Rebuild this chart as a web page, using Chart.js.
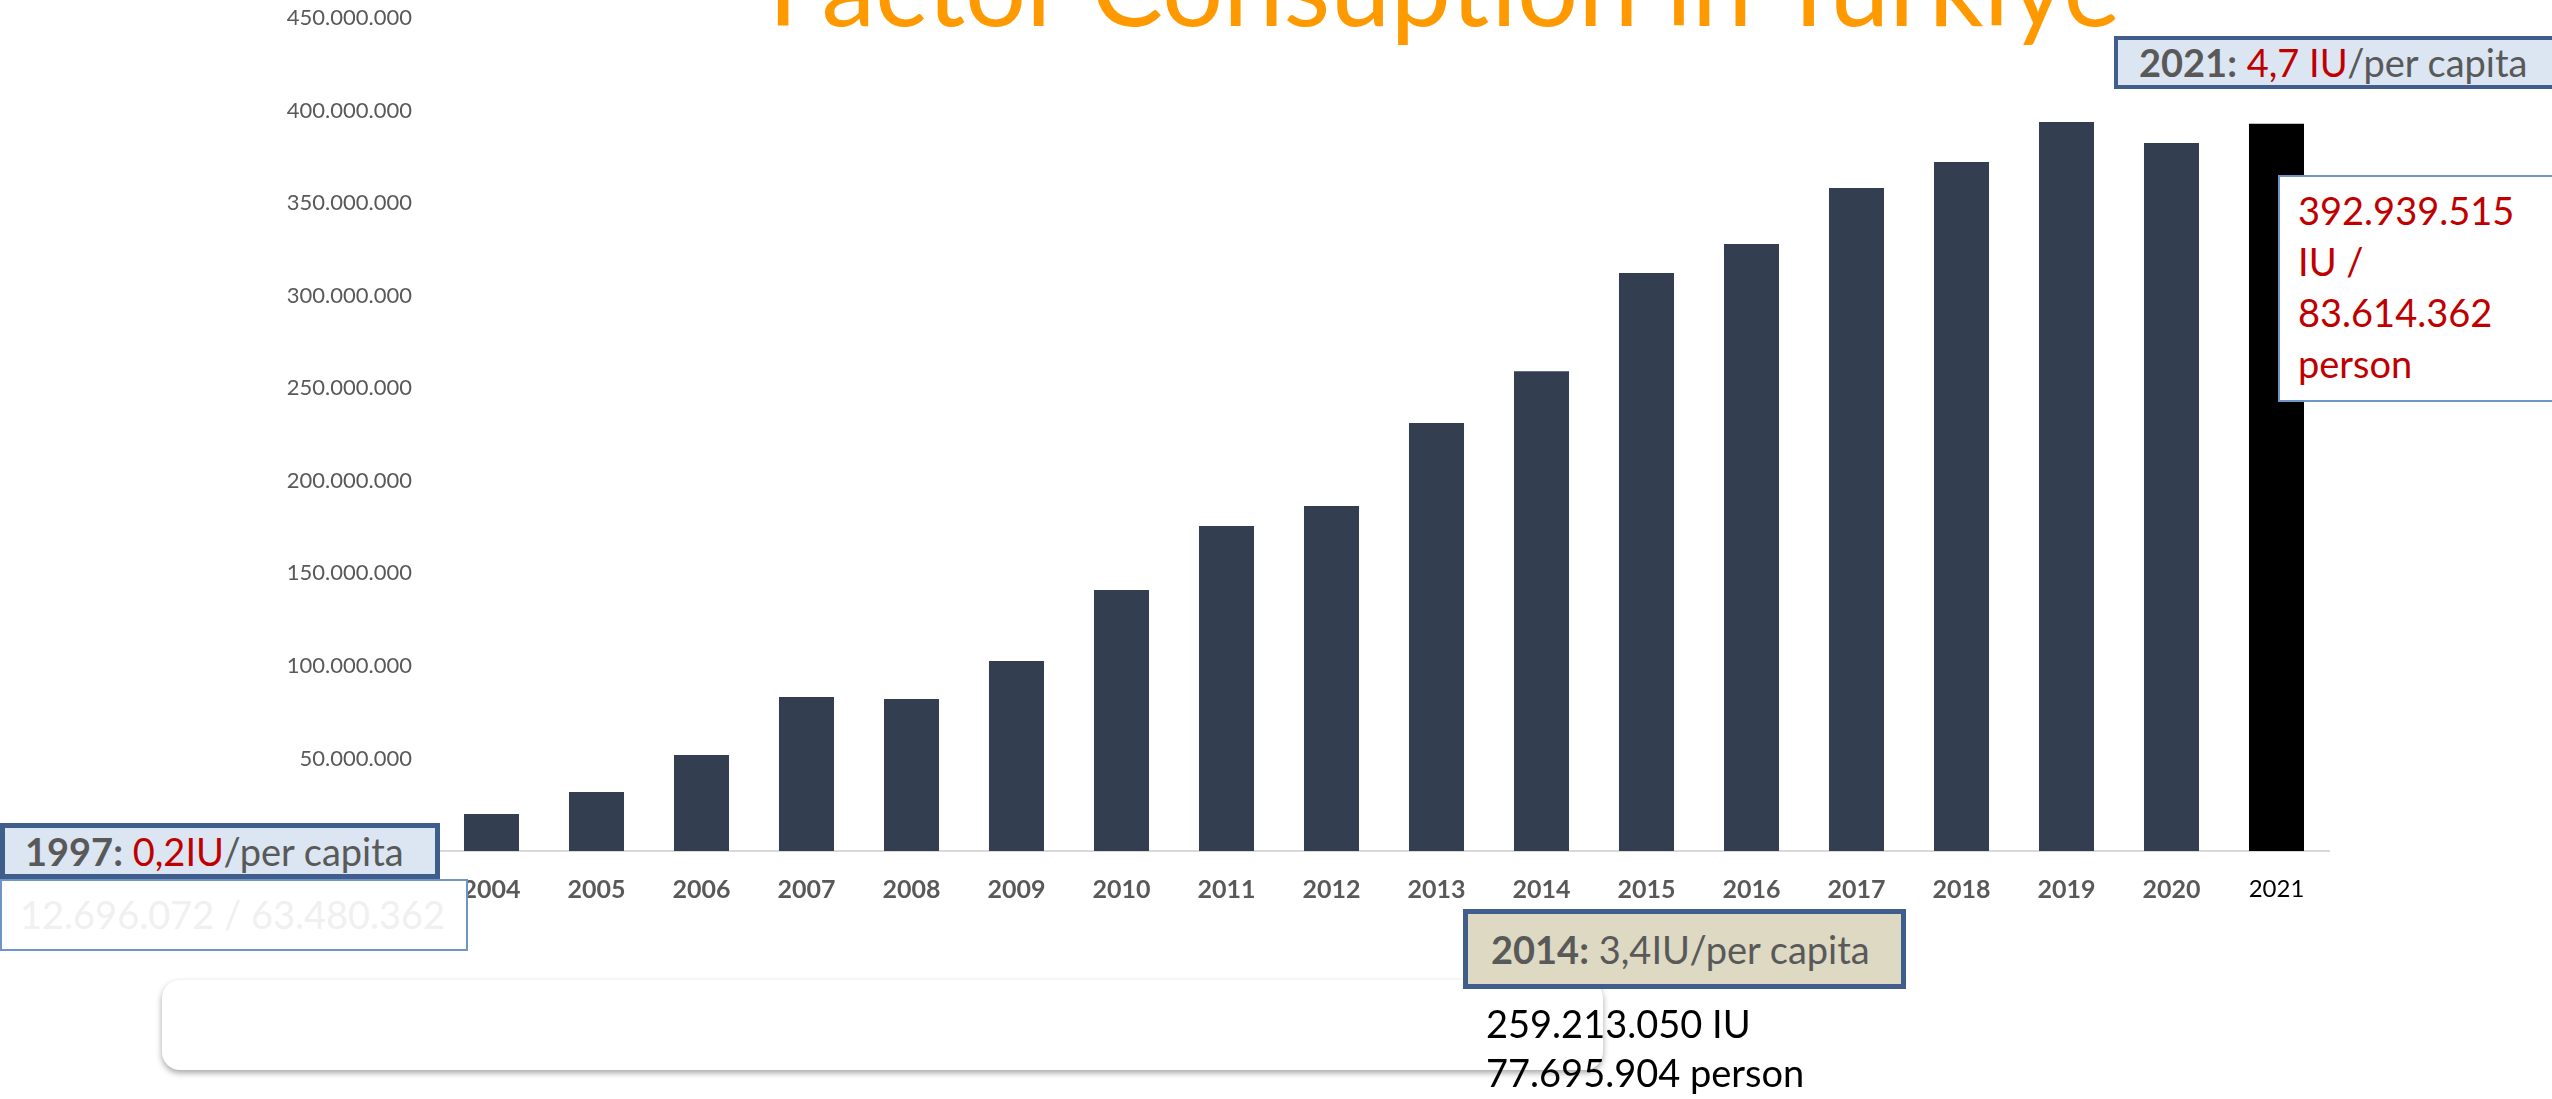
<!DOCTYPE html>
<html>
<head>
<meta charset="utf-8">
<title>Factor Consuption in Türkiye</title>
<script src="https://cdn.jsdelivr.net/npm/chart.js@4.4.0/dist/chart.umd.min.js"></script>
<style>
    html, body {
        margin: 0;
        padding: 0;
        background: #ffffff;
        overflow: hidden;
    }
    #pagina {
        position: relative;
        width: 2552px;
        height: 1099px;
        overflow: hidden;
        font-family: Lato, "Open Sans", sans-serif;
    }
    #grafico {
        position: absolute;
        left: 0;
        top: 0;
    }
    .box {
        position: absolute;
        box-sizing: border-box;
        font-size: 38px;
        white-space: nowrap;
    }
    .rosso { color: #c00000; }
    .grigio { color: #595959; }
    b { font-weight: 700; }
    #titolo {
        position: absolute;
        left: 768px;
        top: -70px;
        font-size: 108px;
        line-height: 108px;
        color: #ff9900;
        white-space: nowrap;
    }
    #box_2021 {
        left: 2114px; top: 36px; width: 460px; height: 53px;
        border: 4px solid #3f5e8c; background: #dce6f2;
        padding-left: 21px; line-height: 45px;
    }
    #valori_2021 {
        left: 2278px; top: 175px; width: 300px; height: 227px;
        border: 2px solid #6f94c8; background: #ffffff;
        padding: 8px 0 0 18px; line-height: 51px; color: #c00000;
    }
    #box_1997 {
        left: 0; top: 823px; width: 440px; height: 56px;
        border: 5px solid #3f5e8c; background: #dce6f2;
        padding-left: 20px; line-height: 46px;
    }
    #valori_1997 {
        left: 0; top: 879px; width: 468px; height: 72px;
        border: 2px solid #6f94c8; background: #ffffff;
        padding: 10px 0 0 18px; line-height: 46px; color: #f0f0f0;
    }
    #riquadro {
        position: absolute;
        left: 162px; top: 980px; width: 1441px; height: 90px;
        border-radius: 18px; background: #ffffff;
        box-shadow: 0 3px 6px rgba(0, 0, 0, 0.35);
    }
    #box_2014 {
        left: 1463px; top: 909px; width: 443px; height: 80px;
        border: 5px solid #3f5e8c; background: #ddd9c3;
        padding-left: 23px; line-height: 70px;
    }
    #valori_2014 {
        left: 1486px; top: 999px;
        line-height: 49px; color: #000000;
    }
</style>
</head>
<body>
<div id="pagina">
    <canvas id="grafico" width="2552" height="1099"></canvas>
    <div id="titolo">Factor Consuption in Türkiye</div>
    <div id="riquadro"></div>
    <div class="box" id="box_2021"></div>
    <div class="box" id="valori_2021"></div>
    <div class="box" id="box_1997"></div>
    <div class="box" id="valori_1997"></div>
    <div class="box" id="box_2014"></div>
    <div class="box" id="valori_2014"></div>
</div>
<script>
// consumo annuo di fattore (IU)
var anni = ['2004', '2005', '2006', '2007', '2008', '2009', '2010', '2011', '2012',
    '2013', '2014', '2015', '2016', '2017', '2018', '2019', '2020', '2021'];
var consumo_iu = [20000000, 31900000, 51900000, 83200000, 82100000, 102600000,
    141000000, 175600000, 186400000, 231200000, 259213050, 312300000,
    327900000, 358200000, 372200000, 393800000, 382500000, 392939515];
var tacche_y = [0, 50000000, 100000000, 150000000, 200000000, 250000000,
    300000000, 350000000, 400000000, 450000000];

// note: anno, IU totali, popolazione, IU pro capite
var anni_nota = ['1997', '2014', '2021'];
var iu_nota = [12696072, 259213050, 392939515];
var persone_nota = [63480362, 77695904, 83614362];
var pro_capite = ['0,2', '3,4', '4,7'];

function formato(n) {
    return n.toLocaleString('de-DE');
}

function $(id) {
    return document.getElementById(id);
}

function scrivi_note() {
    $('box_1997').innerHTML = '<b class="grigio">' + anni_nota[0] + ':</b> <span class="rosso">' +
        pro_capite[0] + 'IU</span><span class="grigio">/per capita</span>';
    $('valori_1997').textContent = formato(iu_nota[0]) + ' / ' + formato(persone_nota[0]);

    $('box_2014').innerHTML = '<b class="grigio">' + anni_nota[1] + ':</b> <span class="grigio">' +
        pro_capite[1] + 'IU/per capita</span>';
    $('valori_2014').innerHTML = formato(iu_nota[1]) + ' IU<br>' + formato(persone_nota[1]) + ' person';

    $('box_2021').innerHTML = '<b class="grigio">' + anni_nota[2] + ':</b> <span class="rosso">' +
        pro_capite[2] + ' IU</span><span class="grigio">/per capita</span>';
    $('valori_2021').innerHTML = formato(iu_nota[2]) + '<br>IU /<br>' + formato(persone_nota[2]) + '<br>person';
}

function grafico() {
    var ctx = $('grafico').getContext('2d');
    var ultimo = anni.length - 1;

    var colori = anni.map(function (a, i) {
        return i === ultimo ? '#000000' : '#333f50';
    });

    new Chart(ctx, {
        type: 'bar',
        data: {
            labels: anni,
            datasets: [{
                data: consumo_iu,
                backgroundColor: colori,
                borderWidth: 0,
                categoryPercentage: 1,
                barPercentage: 0.524
            }]
        },
        options: {
            responsive: false,
            animation: false,
            devicePixelRatio: 1,
            layout: {
                padding: { left: 0, top: 18, right: 223, bottom: 0 }
            },
            plugins: {
                legend: { display: false },
                tooltip: { enabled: false }
            },
            scales: {
                x: {
                    grid: { display: false, drawTicks: false },
                    border: { display: true, color: '#d9d9d9', width: 2 },
                    ticks: {
                        padding: 24,
                        maxRotation: 0,
                        autoSkip: false,
                        color: function (c) {
                            return c.index === ultimo ? '#000000' : '#595959';
                        },
                        font: function (c) {
                            return {
                                family: 'Lato',
                                size: c.index === ultimo ? 24 : 25,
                                weight: c.index === ultimo ? 'normal' : 'bold'
                            };
                        }
                    },
                    afterFit: function (scale) {
                        scale.height = 248;
                    }
                },
                y: {
                    min: 0,
                    max: 450000000,
                    grid: { display: false, drawTicks: false },
                    border: { display: false },
                    afterBuildTicks: function (scale) {
                        scale.ticks = tacche_y.map(function (v) {
                            return { value: v };
                        });
                    },
                    ticks: {
                        padding: 27,
                        color: '#595959',
                        font: { family: 'Lato', size: 22 },
                        callback: function (v) {
                            return v === 0 ? '' : formato(v);
                        }
                    },
                    afterFit: function (scale) {
                        // l'asse parte subito dal margine, senza spazio extra per le etichette
                        scale.width = 439;
                        scale.paddingTop = 0;
                        scale.paddingBottom = 0;
                    }
                }
            }
        }
    });
}

scrivi_note();
grafico();
</script>
</body>
</html>
